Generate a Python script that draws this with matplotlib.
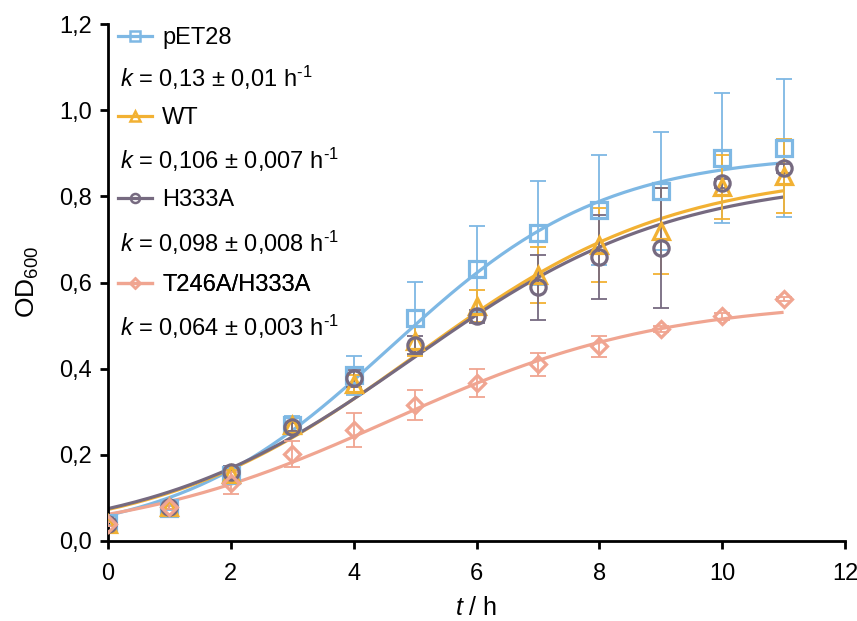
import numpy as np
import matplotlib
matplotlib.use("Agg")
import matplotlib.pyplot as plt
from matplotlib.lines import Line2D

plt.rcParams['font.family'] = ['Liberation Sans', 'DejaVu Sans']
plt.rcParams['mathtext.fontset'] = 'custom'
plt.rcParams['mathtext.rm'] = 'Liberation Sans'
plt.rcParams['mathtext.it'] = 'Liberation Sans:italic'

# ---- data ----
t = [0, 1, 2, 3, 4, 5, 6, 7, 8, 9, 10, 11]

pet28 = [0.042, 0.077, 0.153, 0.269, 0.385, 0.517, 0.631, 0.715, 0.768, 0.812, 0.889, 0.912]
pet28_err = [0.005, 0.005, 0.01, 0.02, 0.045, 0.085, 0.10, 0.12, 0.128, 0.137, 0.15, 0.16]

wt = [0.040, 0.080, 0.155, 0.270, 0.365, 0.465, 0.545, 0.617, 0.687, 0.720, 0.822, 0.847]
wt_err = [0.005, 0.005, 0.01, 0.015, 0.02, 0.035, 0.037, 0.065, 0.087, 0.10, 0.075, 0.085]

h333a = [0.040, 0.080, 0.160, 0.265, 0.378, 0.455, 0.522, 0.589, 0.659, 0.680, 0.830, 0.865]
h333a_err = [0.005, 0.005, 0.015, 0.01, 0.02, 0.02, 0.015, 0.075, 0.098, 0.14, 0.01, 0.01]

dbl = [0.040, 0.080, 0.135, 0.202, 0.258, 0.316, 0.367, 0.410, 0.452, 0.492, 0.522, 0.561]
dbl_err = [0.005, 0.005, 0.025, 0.03, 0.04, 0.035, 0.033, 0.027, 0.024, 0.008, 0.008, 0.005]

labels = ["pET28", "WT", "H333A", "T246A/H333A"]
k_texts = [r"$k$ = 0,13 ± 0,01 h$^{\text{-1}}$",
           r"$k$ = 0,106 ± 0,007 h$^{\text{-1}}$",
           r"$k$ = 0,098 ± 0,008 h$^{\text{-1}}$",
           r"$k$ = 0,064 ± 0,003 h$^{\text{-1}}$"]

# logistic fit parameters (plateau, rate, midpoint)
fit_A = [0.90, 0.86, 0.845, 0.56]
fit_r = [0.575, 0.475, 0.47, 0.453]
fit_tm = [4.6, 5.0, 4.95, 4.6]

xticks = [0, 2, 4, 6, 8, 10, 12]
xticklabels = ["0", "2", "4", "6", "8", "10", "12"]
yticks = [0.0, 0.2, 0.4, 0.6, 0.8, 1.0, 1.2]
yticklabels = ["0,0", "0,2", "0,4", "0,6", "0,8", "1,0", "1,2"]

colors = ["#7EB8E4", "#F2B133", "#766A80", "#F0A591"]
markers = ["s", "^", "o", "D"]
msizes = [11, 11, 11, 8]

series = [pet28, wt, h333a, dbl]
errs = [pet28_err, wt_err, h333a_err, dbl_err]

FS = 17

fig = plt.figure(figsize=(8.57, 6.21), dpi=100)
ax = fig.add_axes([108/857, 1-541/621, 737/857, 517/621])

tt = np.linspace(0, 11, 200)
order = [3, 1, 2, 0]
for i in order:
    fit = fit_A[i] / (1 + np.exp(-fit_r[i] * (tt - fit_tm[i])))
    ax.plot(tt, fit, color=colors[i], lw=2.3, zorder=2 + i * 0.1, solid_capstyle='butt')
for i in order:
    ax.errorbar(t, series[i], yerr=errs[i], fmt='none', ecolor=colors[i],
                elinewidth=1.3, capsize=6, capthick=1.3, zorder=3 + i * 0.1)
    ax.plot(t, series[i], linestyle='none', marker=markers[i], ms=msizes[i],
            mfc='none', mec=colors[i], mew=2.3, zorder=4 + i * 0.1)

ax.set_xlim(0, 12)
ax.set_ylim(0, 1.2)
ax.set_xticks(xticks)
ax.set_xticklabels(xticklabels)
ax.set_yticks(yticks)
ax.set_yticklabels(yticklabels)
ax.tick_params(labelsize=FS, width=2, length=6, direction='out', color='black')
ax.tick_params(axis='x', pad=10)
ax.tick_params(axis='y', pad=5.5)
for s in ['top', 'right']:
    ax.spines[s].set_visible(False)
for s in ['left', 'bottom']:
    ax.spines[s].set_linewidth(2)
ax.set_xlabel(r"$t$ / h", fontsize=18, labelpad=8)
ax.set_ylabel(r"OD$_{600}$", fontsize=19, labelpad=13)

# legend entries (one legend per series) and k texts
leg_y = [(541-38)/517, (541-118)/517, (541-200)/517, (541-285)/517]
k_y = [(541-78)/517, (541-160)/517, (541-243)/517, (541-327)/517]
for i in range(4):
    h = Line2D([], [], color=colors[i], lw=2.3, marker=markers[i], ms=6.5 if i != 3 else 5.5,
               mfc='none', mec=colors[i], mew=1.8)
    leg = ax.legend(handles=[h], labels=[labels[i]], loc='center left',
                    bbox_to_anchor=(10/737, leg_y[i]), frameon=False, fontsize=FS,
                    borderpad=0, borderaxespad=0, handlelength=1.45, handletextpad=0.42)
    ax.add_artist(leg)
    ax.text(12/737, k_y[i], k_texts[i], transform=ax.transAxes, fontsize=FS,
            va='center', ha='left')

fig.savefig("out.png", dpi=100)
